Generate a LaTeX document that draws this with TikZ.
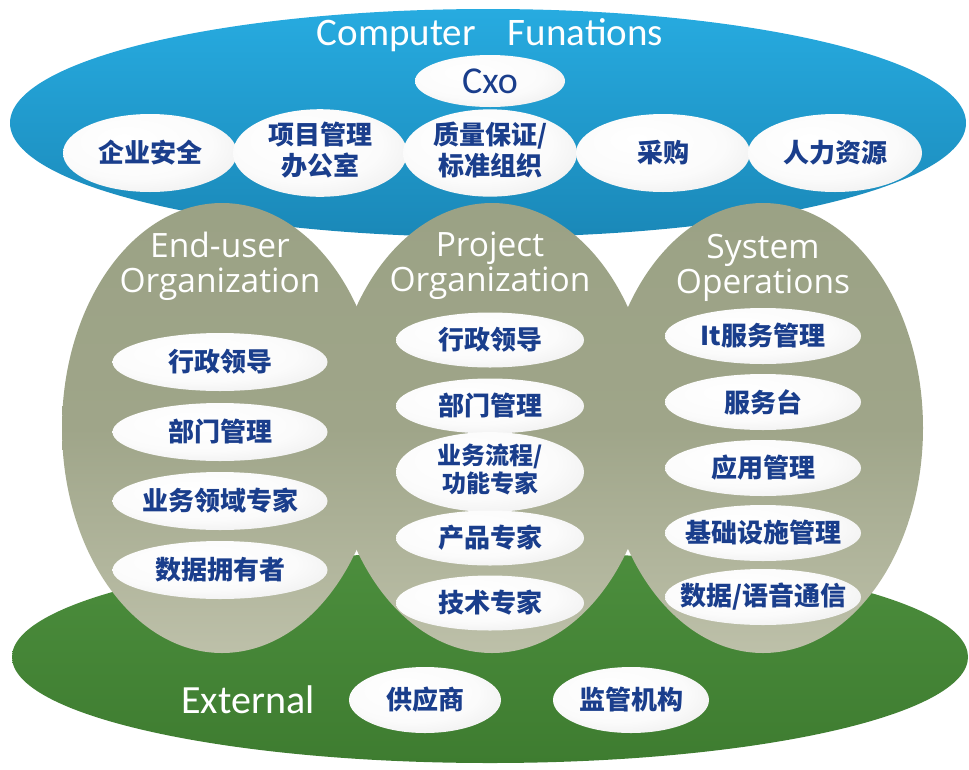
\documentclass[tikz,border=0pt]{standalone}
\usepackage{fontspec}
\usetikzlibrary{shapes.geometric}
\newfontfamily\cjk{Noto Sans CJK SC}
\newfontfamily\latf{Carlito}
\newfontfamily\orgf{Open Sans}
\definecolor{navy}{HTML}{1A3E8C}
\definecolor{bluetop}{HTML}{27ABE0}
\definecolor{bluebot}{HTML}{1A88B8}
\definecolor{greentop}{HTML}{4C8E3D}
\definecolor{greenbot}{HTML}{3E7C30}
\definecolor{olivetop}{HTML}{9BA285}
\definecolor{olivemid}{HTML}{9FA589}
\definecolor{olivebot}{HTML}{BDC0A9}
\pgfdeclareradialshading{ovalshade}{\pgfpoint{-8bp}{10bp}}{color(0bp)=(white); color(22bp)=(white!97!gray); color(36bp)=(gray!15); color(46bp)=(gray!28); color(50bp)=(gray!34)}
\newcommand{\zt}[1]{\makebox[0pt]{#1}}
\newcommand{\ztt}[2]{\makebox[0pt]{\begin{tabular}{@{}c@{}}#1\\#2\end{tabular}}}
\tikzset{
  oval/.style={ellipse, draw=none, shading=ovalshade, inner sep=0pt, text=navy,
    font=\cjk\bfseries\fontsize{26}{28}\selectfont},
  topoval/.style={oval, minimum width=174pt, minimum height=78pt},
  euoval/.style={oval, minimum width=215pt, minimum height=58pt},
  pooval/.style={oval, minimum width=188pt, minimum height=55pt},
  sooval/.style={oval, minimum width=196pt, minimum height=56pt},
  extoval/.style={oval, minimum width=152pt, minimum height=66pt},
  orgbg/.style={ellipse, draw=none, inner sep=0pt, minimum height=450pt,
    top color=olivetop, bottom color=olivebot, middle color=olivemid},
  orgtitle/.style={text=white, align=center, font=\orgf\fontsize{33.5}{35}\selectfont},
}
\begin{document}
\begin{tikzpicture}[x=1pt,y=-1pt]
\useasboundingbox (0,0) rectangle (969,769);
% big background shapes
\node[ellipse, draw=none, inner sep=0pt, minimum width=956pt, minimum height=228pt,
  top color=bluetop, bottom color=bluebot] (compf) at (488,123) {};
\node[ellipse, draw=none, inner sep=0pt, minimum width=956pt, minimum height=212pt,
  top color=greentop, bottom color=greenbot] (ext) at (490,657) {};
\node[orgbg, minimum width=320pt] (eu) at (222,428) {};
\node[orgbg, minimum width=322pt] (po) at (492,428) {};
\node[orgbg, minimum width=320pt] (so) at (763,428) {};
% titles
\node[text=white, font=\latf\fontsize{39}{40}\selectfont] (cft) at (490,35) {Computer\hspace{32pt}Funations};
\node[oval, minimum width=150pt, minimum height=52pt, text=navy, font=\latf\fontsize{38}{40}\selectfont] (cxo) at (490,81) {\zt{Cxo}};
\node[orgtitle] (eut) at (220,266) {End-user\\Organization};
\node[orgtitle] (pot) at (490,266) {Project\\Organization};
\node[orgtitle] (sot) at (763,268) {System\\Operations};
\node[text=white, font=\latf\fontsize{40}{42}\selectfont] (extt) at (248,700) {External};
% top row
\node[topoval] (c1) at (150,153) {\zt{企业安全}};
\node[topoval] (c2) at (320,153) {\ztt{项目管理}{办公室}};
\node[topoval] (c3) at (490,153) {\ztt{质量保证/}{标准组织}};
\node[topoval] (c4) at (663,153) {\zt{采购}};
\node[topoval] (c5) at (835,153) {\zt{人力资源}};
% end-user column
\node[euoval] (e1) at (220,362) {\zt{行政领导}};
\node[euoval] (e2) at (220,432) {\zt{部门管理}};
\node[euoval] (e3) at (220,501) {\zt{业务领域专家}};
\node[euoval] (e4) at (220,570) {\zt{数据拥有者}};
% project column
\node[pooval] (p1) at (490,340) {\zt{行政领导}};
\node[pooval] (p2) at (490,406) {\zt{部门管理}};
\node[pooval, font=\cjk\bfseries\fontsize{24}{25}\selectfont] (p3) at (490,472) {\ztt{业务流程/}{功能专家}};
\node[pooval] (p4) at (490,538) {\zt{产品专家}};
\node[pooval] (p5) at (490,603) {\zt{技术专家}};
% system operations column
\node[sooval] (s1) at (763,336) {\zt{It服务管理}};
\node[sooval] (s2) at (763,402) {\zt{服务台}};
\node[sooval] (s3) at (763,468) {\zt{应用管理}};
\node[sooval] (s4) at (763,533) {\zt{基础设施管理}};
\node[sooval] (s5) at (763,597) {\zt{数据/语音通信}};
% external
\node[extoval] (x1) at (425,700) {\zt{供应商}};
\node[extoval, minimum width=156pt] (x2) at (631,700) {\zt{监管机构}};
\end{tikzpicture}
\end{document}
